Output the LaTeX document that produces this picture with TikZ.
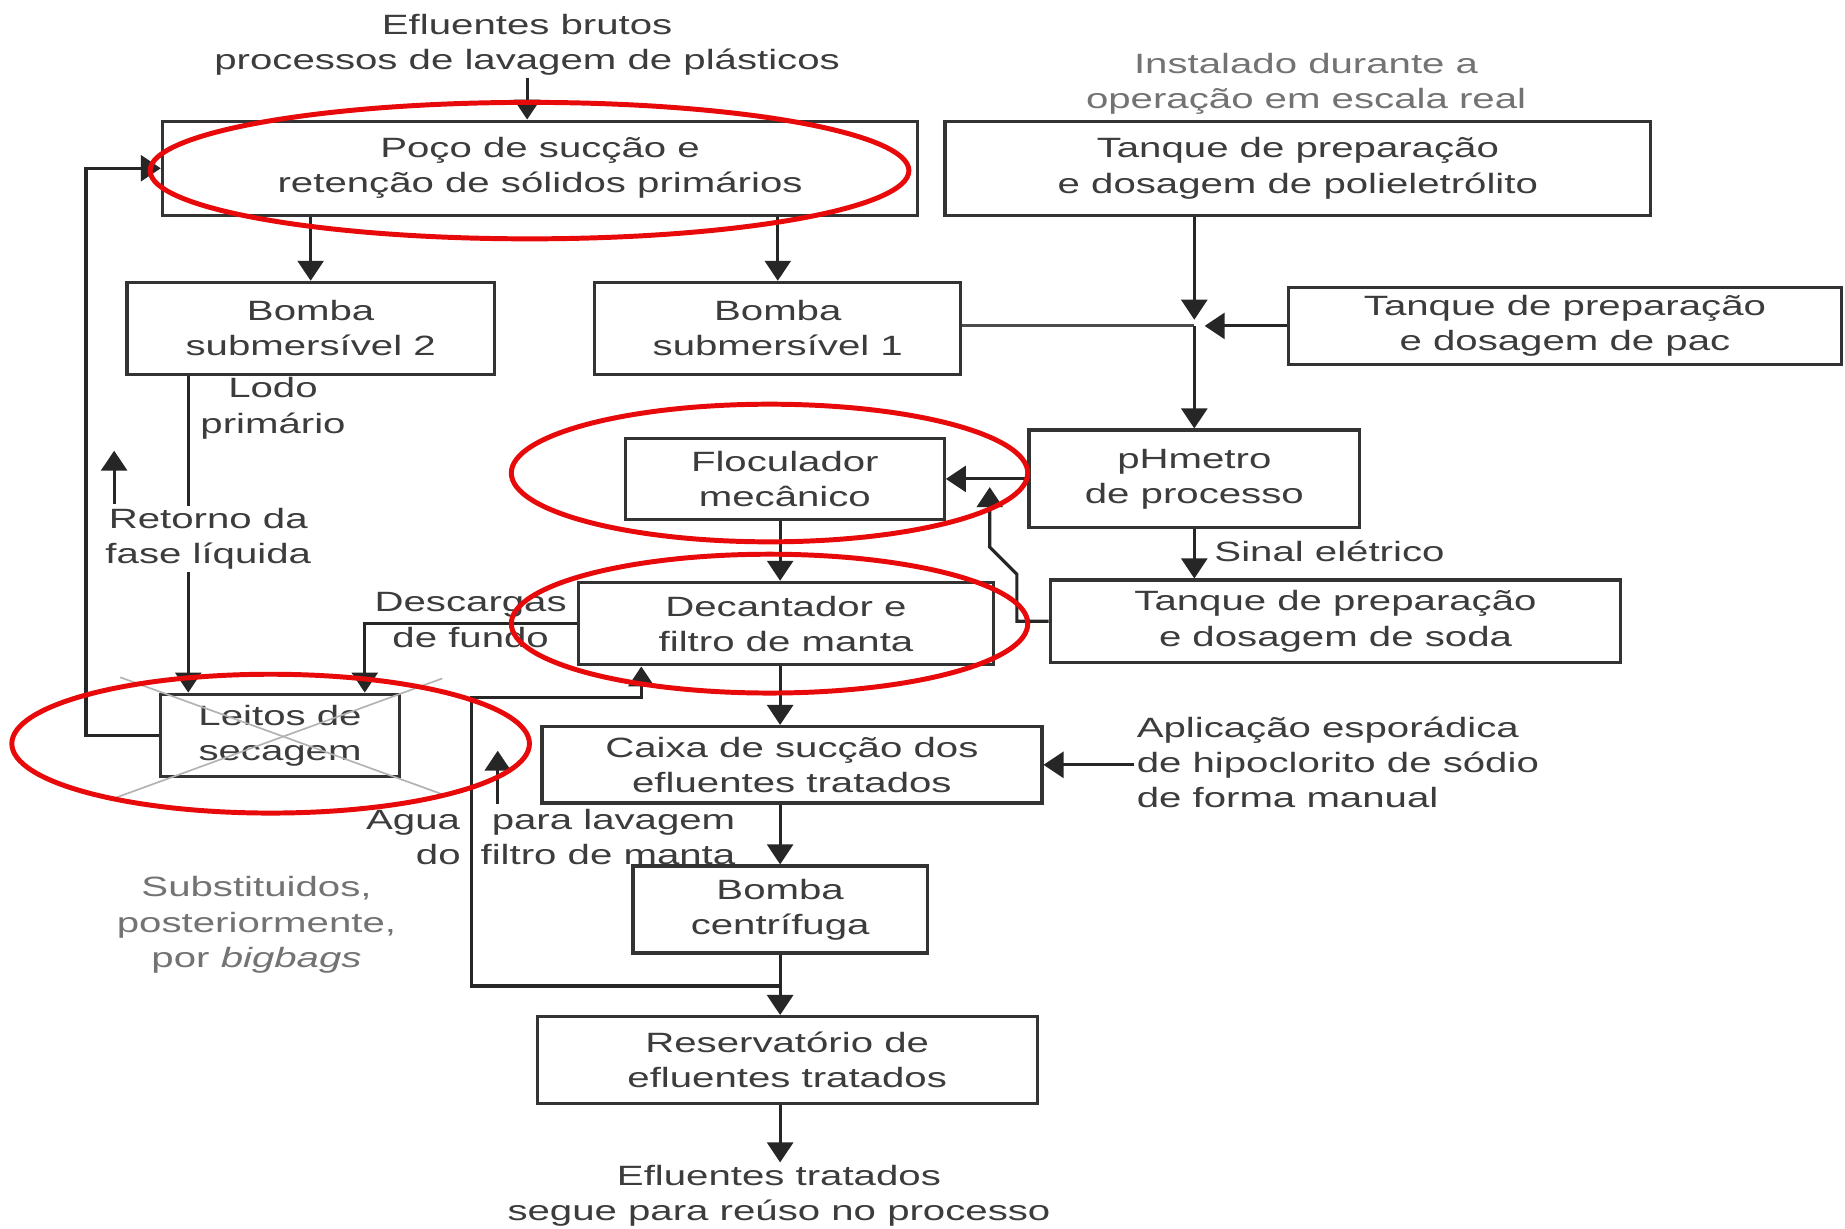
\documentclass[tikz,border=0pt]{standalone}
\usepackage{fontspec}
\setmainfont{Liberation Sans}[FakeStretch=1.44]
\usetikzlibrary{arrows.meta}
\definecolor{ringred}{RGB}{232,10,10}
\definecolor{txtgray}{RGB}{60,60,60}

\begin{document}
\begin{tikzpicture}[x=0.02cm, y=-0.02cm, font=\fontsize{13.5}{17}\selectfont,
  box/.style={draw=black!80, line width=1.6pt, text=txtgray, align=center, inner sep=0pt},
  lbl/.style={text=txtgray, align=center, inner sep=1pt},
  arr/.style={draw=black!85, line width=1.5pt, -{Triangle[length=0.34cm,width=0.44cm]}},
  ln/.style={draw=black!70, line width=1.5pt},
  ring/.style={draw=ringred, line width=2.4pt},
  xline/.style={draw=black!30, line width=0.8pt}]
\path[use as bounding box, fill=white] (0,0) rectangle (1568,1044);

\node[lbl] (inp) at (448,38) {Efluentes brutos\\processos de lavagem de plásticos};
\node[lbl, text=black!55] (inst) at (1110,71) {Instalado durante a\\operação em escala real};

\node[box, minimum width=12.84cm, minimum height=1.6cm] (poco) at (459,143) {Poço de sucção e\\retenção de sólidos primários};
\node[box, minimum width=12cm, minimum height=1.6cm] (poli) at (1103,143) {Tanque de preparação\\e dosagem de polieletrólito};
\node[box, minimum width=6.24cm, minimum height=1.56cm] (bomba2) at (264,279) {Bomba\\submersível 2};
\node[box, minimum width=6.22cm, minimum height=1.56cm] (bomba1) at (661,279) {Bomba\\submersível 1};
\node[box, minimum width=9.4cm, minimum height=1.3cm] (pac) at (1330,277) {Tanque de preparação\\e dosagem de pac};
\node[box, minimum width=5.62cm, minimum height=1.66cm] (ph) at (1015,407) {pHmetro\\de processo};
\node[box, minimum width=5.42cm, minimum height=1.38cm] (floc) at (667,407) {Floculador\\mecânico};
\node[box, minimum width=9.7cm, minimum height=1.4cm] (soda) at (1135,528) {Tanque de preparação\\e dosagem de soda};
\node[box, minimum width=7.06cm, minimum height=1.4cm] (dec) at (668,530) {Decantador e\\filtro de manta};
\node[box, minimum width=4.06cm, minimum height=1.4cm] (leitos) at (238,625) {Leitos de\\secagem};
\node[box, minimum width=8.5cm, minimum height=1.3cm] (caixa) at (673,650) {Caixa de sucção dos\\efluentes tratados};
\node[box, minimum width=5cm, minimum height=1.48cm] (centr) at (663,773) {Bomba\\centrífuga};
\node[box, minimum width=8.5cm, minimum height=1.48cm] (res) at (669,901) {Reservatório de\\efluentes tratados};
\node[lbl] (out) at (662,1016) {Efluentes tratados\\segue para reúso no processo};

\draw[xline] ([shift={(-33,-13)}]leitos.north west) -- ([shift={(36,14)}]leitos.south east);
\draw[xline] ([shift={(35,-12)}]leitos.north east) -- ([shift={(-38,17)}]leitos.south west);

\coordinate (mx) at (663,0);
\coordinate (lq) at (160,0);
\coordinate (dsc) at (310,0);
\coordinate (jn) at (ph.north |- pac.west);
\coordinate (br) at (663,838);
\coordinate (wl) at (401,593);
\coordinate (wr) at (545,593);
\coordinate (a1) at (423,683);
\coordinate (a2) at (97,428);

\draw[arr] (inp.south) -- (poco.north -| inp.south);
\draw[arr] (poco.south -| bomba2.north) -- (bomba2.north);
\draw[arr] (poco.south -| bomba1.north) -- (bomba1.north);
\draw[arr, shorten >=3pt] (poli.south -| jn) -- (jn);
\draw[ln] (jn -| bomba1.east) -- (jn);
\draw[arr, shorten >=5pt] (pac.west) -- (jn);
\draw[arr] (jn) -- (ph.north);
\draw[arr] (ph.west) -- (floc.east);
\draw[arr] (ph.south) -- (ph.south |- soda.north);
\draw[arr] (soda.west) -- ++(-27,0) -- ++(0,-40) -- ++(-23,-23) -- ++(0,-51);
\draw[arr] (floc.south -| mx) -- (dec.north -| mx);
\draw[arr] (dec.south -| mx) -- (caixa.north -| mx);
\draw[arr] (caixa.south -| mx) -- (centr.north -| mx);
\draw[arr] (centr.south) -- (res.north -| centr.south);
\draw[arr] (res.south -| mx) -- (out.north -| mx);
\draw[arr] (br) -| (wl) -- (wr) -- (wr |- dec.south);
\draw[arr] (dec.west) -| (dsc |- leitos.north);
\draw[arr] (bomba2.south -| lq) -- (leitos.north -| lq);
\draw[arr] (leitos.west) -- ++(-62,0) |- (poco.west);
\draw[arr] (a1) -- ++(0,-45);
\draw[arr] (a2) -- ++(0,-45);

\node[lbl] (lodo) at (232,347) {Lodo\\primário};
\node[lbl, fill=white] (ret) at (177,458) {Retorno da\\fase líquida};
\node[lbl] (desc) at (400,527) {Descargas\\de fundo};
\node[lbl, anchor=west] (sinal) at (1030,469) {Sinal elétrico};
\node[lbl, align=left, anchor=west] (hipo) at (964,648) {Aplicação esporádica\\de hipoclorito de sódio\\de forma manual};
\draw[arr] (hipo.west |- caixa.east) -- (caixa.east);
\node[lbl, align=right, anchor=east] (agua) at (627,710) {Água\hspace{0.54cm}para lavagem\\do\hspace{0.34cm}filtro de manta};
\node[lbl, text=black!55] (subs) at (218,786) {Substituidos,\\posteriormente,\\por \textit{bigbags}};

\draw[ring] (450,145) ellipse [x radius=6.45cm, y radius=1.16cm];
\draw[ring] (654,402) ellipse [x radius=4.39cm, y radius=1.17cm];
\draw[ring] (654,530) ellipse [x radius=4.39cm, y radius=1.18cm];
\draw[ring] (230,632) ellipse [x radius=4.4cm, y radius=1.18cm];
\end{tikzpicture}
\end{document}
